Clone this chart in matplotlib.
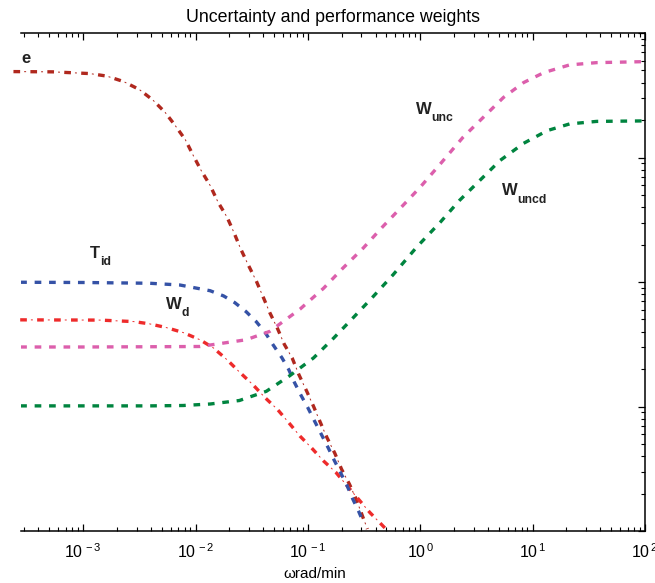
import numpy as np
import matplotlib
matplotlib.use("Agg")
import matplotlib.pyplot as plt
from matplotlib.ticker import LogLocator, NullFormatter, FuncFormatter

plt.rcParams['font.family'] = ['Liberation Sans', 'DejaVu Sans']
plt.rcParams['mathtext.fontset'] = 'custom'
plt.rcParams['mathtext.rm'] = 'Liberation Sans'
plt.rcParams['mathtext.bf'] = 'Liberation Sans:bold'
plt.rcParams['mathtext.it'] = 'Liberation Sans:italic'
plt.rcParams['lines.scale_dashes'] = False

# values, as log10(omega) and log10(magnitude)
e_lw = [-3.62, -3.27, -2.94, -2.79, -2.64, -2.50, -2.38, -2.27, -2.18, -2.09, -2.02,
        -1.95, -1.87, -1.80, -1.72, -1.66, -1.60, -1.53, -1.46, -1.40, -1.34, -1.27,
        -1.21, -1.14, -1.08, -1.01, -0.95, -0.89, -0.83, -0.76, -0.70, -0.63, -0.57,
        -0.51, -0.47]
e_lm = [0.690, 0.688, 0.674, 0.654, 0.610, 0.546, 0.462, 0.362, 0.256, 0.142, 0.016,
        -0.104, -0.224, -0.358, -0.478, -0.598, -0.730, -0.864, -0.990, -1.116, -1.244,
        -1.374, -1.500, -1.610, -1.744, -1.878, -1.998, -2.126, -2.250, -2.376, -2.504,
        -2.624, -2.744, -2.890, -2.984]

tid_lw = [-3.56, -3.00, -2.41, -2.14, -1.87, -1.75, -1.65, -1.55, -1.46, -1.38, -1.31,
          -1.23, -1.17, -1.12, -1.06, -1.00, -0.94, -0.88, -0.82, -0.77, -0.71, -0.65,
          -0.60, -0.55, -0.50]
tid_lm = [-1.002, -1.004, -1.010, -1.024, -1.070, -1.112, -1.166, -1.238, -1.318,
          -1.406, -1.504, -1.610, -1.704, -1.806, -1.912, -2.010, -2.118, -2.224,
          -2.330, -2.424, -2.530, -2.638, -2.744, -2.838, -2.944]

wd_lw = [-3.56, -2.85, -2.55, -2.41, -2.26, -2.11, -1.96, -1.84, -1.72, -1.61, -1.49,
         -1.38, -1.27, -1.17, -1.07, -0.97, -0.86, -0.75, -0.65, -0.55, -0.45, -0.34,
         -0.31]
wd_lm = [-1.304, -1.306, -1.318, -1.336, -1.366, -1.406, -1.464, -1.530, -1.624,
         -1.722, -1.824, -1.930, -2.024, -2.130, -2.238, -2.330, -2.438, -2.530,
         -2.638, -2.744, -2.850, -2.952, -2.980]

wunc_lw = [-3.56, -3.00, -2.41, -1.96, -1.55, -1.34, -1.07, -0.86, -0.69, -0.51, -0.33,
           -0.18, 0.00, 0.18, 0.38, 0.56, 0.74, 0.92, 1.10, 1.33, 1.57, 2.00]
wunc_lm = [-1.522, -1.522, -1.520, -1.518, -1.464, -1.397, -1.218, -1.050, -0.890,
           -0.730, -0.552, -0.410, -0.238, -0.050, 0.162, 0.322, 0.482, 0.602, 0.682,
           0.744, 0.762, 0.770]

wuncd_lw = [-3.56, -2.41, -2.11, -1.87, -1.61, -1.37, -1.16, -0.95, -0.77, -0.60, -0.42,
            -0.24, -0.03, 0.18, 0.35, 0.53, 0.71, 0.92, 1.13, 1.33, 1.57, 2.00]
wuncd_lm = [-1.995, -1.995, -1.992, -1.980, -1.952, -1.878, -1.752, -1.610, -1.450,
            -1.290, -1.118, -0.940, -0.718, -0.518, -0.344, -0.184, -0.024, 0.114,
            0.216, 0.270, 0.290, 0.294]

x_ticks = [1e-3, 1e-2, 1e-1, 1e0, 1e1, 1e2]

c_e = '#b0281e'
c_tid = '#3552a6'
c_wd = '#ee2b2b'
c_unc = '#dc5fac'
c_uncd = '#00843f'

fig = plt.figure(figsize=(6.55, 5.83), dpi=100)
ax = fig.add_axes([21/655, 52/583, 624/655, 498/583])

dash = (0, (4.8, 5.6))
lw = 2.4


def dashdot(x, y, color):
    # thick dash plus a thin tick in the middle of each gap
    ax.plot(x, y, color=color, lw=lw, linestyle=(0, (4.8, 7.4)), clip_on=False)
    ax.plot(x, y, color=color, lw=0.7, linestyle=(4.5, (1.4, 10.8)), clip_on=False)


dashdot(10 ** np.array(e_lw), 10 ** np.array(e_lm), c_e)
dashdot(10 ** np.array(wd_lw), 10 ** np.array(wd_lm), c_wd)
ax.plot(10 ** np.array(tid_lw), 10 ** np.array(tid_lm), color=c_tid, lw=lw, linestyle=dash)
ax.plot(10 ** np.array(wunc_lw), 10 ** np.array(wunc_lm), color=c_unc, lw=lw, linestyle=dash)
ax.plot(10 ** np.array(wuncd_lw), 10 ** np.array(wuncd_lm), color=c_uncd, lw=lw, linestyle=dash)

ax.set_xscale('log')
ax.set_yscale('log')
ax.set_xlim(2.8e-4, 100)
ax.set_ylim(1e-3, 10)

ax.set_xticks(x_ticks)
ax.xaxis.set_major_formatter(
    FuncFormatter(lambda v, p: r'$\mathdefault{10^{\,%d}}$' % round(np.log10(v))))
ax.xaxis.set_minor_locator(LogLocator(base=10, subs=np.arange(2, 10)))
ax.xaxis.set_minor_formatter(NullFormatter())
ax.yaxis.set_minor_locator(LogLocator(base=10, subs=np.arange(2, 10)))
ax.yaxis.set_major_formatter(NullFormatter())
ax.yaxis.set_minor_formatter(NullFormatter())
ax.tick_params(axis='x', which='both', direction='in', top=True, bottom=True,
               labelsize=11.5, pad=8)
ax.tick_params(axis='y', which='both', direction='in', left=False, right=True,
               labelleft=False)
ax.tick_params(which='major', length=5, width=0.9)
ax.tick_params(which='minor', length=3, width=0.8)
ax.spines['left'].set_visible(False)
for s in ['top', 'bottom', 'right']:
    ax.spines[s].set_linewidth(1.1)

ax.set_title('Uncertainty and performance weights', fontsize=12.8, pad=8)
ax.set_xlabel('ωrad/min', fontsize=11)
ax.xaxis.set_label_coords(0.471, -0.072)


def curve_label(x, y, main, sub, sub_dx):
    ax.text(x, y, main, fontsize=12, fontweight='bold', color='#222222',
            ha='left', va='baseline')
    if sub:
        ax.annotate(sub, xy=(x, y), xytext=(sub_dx, -5.3), textcoords='offset points',
                    fontsize=8.8, fontweight='bold', color='#222222',
                    ha='left', va='baseline')


curve_label(2.85e-4, 5.75, 'e', '', 0)
curve_label(1.15e-3, 0.156, 'T', 'id', 7.0)
curve_label(5.5e-3, 0.061, 'W', 'd', 11.0)
curve_label(0.91, 2.24, 'W', 'unc', 11.0)
curve_label(5.3, 0.497, 'W', 'uncd', 11.0)

fig.savefig('out.png', dpi=100)
